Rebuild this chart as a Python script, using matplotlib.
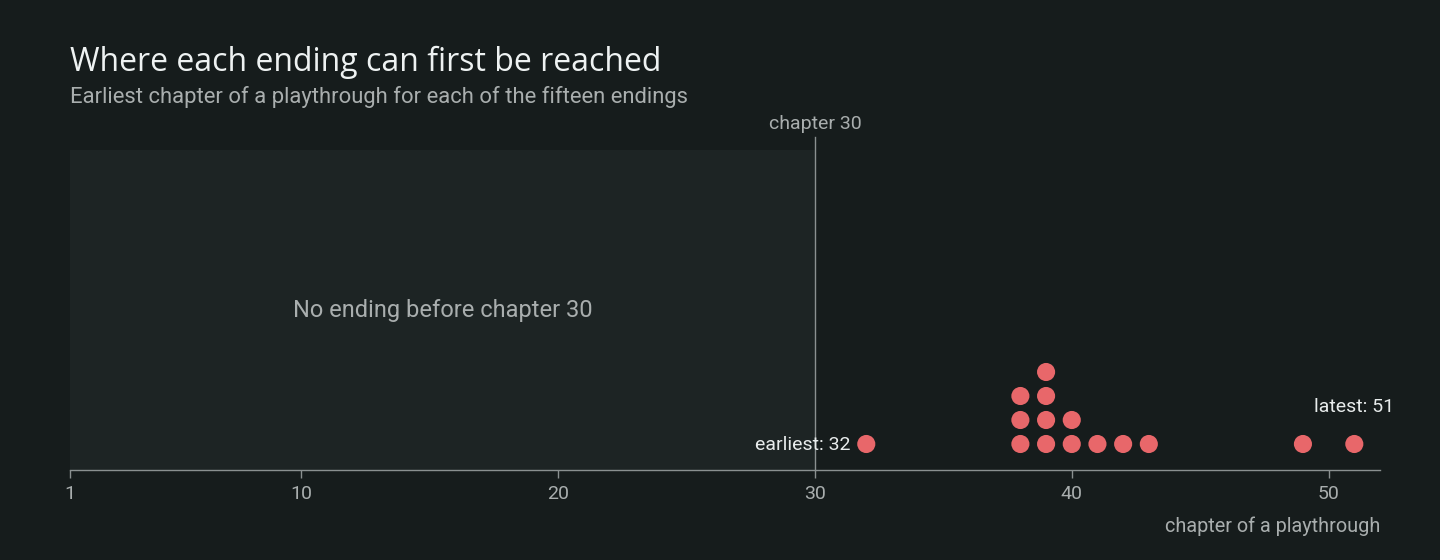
import numpy as np
import matplotlib.pyplot as plt
from matplotlib.patches import Rectangle

# earliest chapter per ending (15 endings)
chapters = [32, 38, 38, 38, 39, 39, 39, 39, 40, 40, 41, 42, 43, 49, 51]
x_ticks = [1, 10, 20, 30, 40, 50]
threshold = 30

BG = "#161c1c"
SHADE = "#1d2424"
DOT = "#e8676a"
GRID = "#8a9090"
TXT = "#a9aeae"

fig = plt.figure(figsize=(14.4, 5.6), dpi=100, facecolor=BG)
ax = fig.add_axes([70 / 1440, 90 / 560, 1310 / 1440, 320 / 560])
ax.set_facecolor(BG)
ax.set_xlim(1, 52)
ax.set_ylim(0, 320)

# shaded region before chapter 30
ax.add_patch(Rectangle((1, 0), threshold - 1, 320, facecolor=SHADE, edgecolor="none", zorder=0))
ax.text((1 + threshold) / 2, 160, "No ending before chapter 30", ha="center", va="center",
        color=TXT, fontsize=17, family="Roboto")

# threshold line
ax.plot([threshold, threshold], [0, 333], color=GRID, lw=1, clip_on=False, zorder=1)
ax.text(threshold, 337, "chapter 30", ha="center", va="bottom", color=TXT, fontsize=14,
        family="Roboto")

# stacked dots
counts = {}
xs, ys = [], []
for c in chapters:
    k = counts.get(c, 0)
    counts[c] = k + 1
    xs.append(c)
    ys.append(26 + 24 * k)
ax.scatter(xs, ys, s=170, color=DOT, edgecolors="none", zorder=3)

lo, hi = min(chapters), max(chapters)
ax.text(lo - 0.6, 25, f"earliest: {lo}", ha="right", va="center", color="#e8ecec",
        fontsize=14, family="Roboto")
ax.text(hi, 63, f"latest: {hi}", ha="center", va="center", color="#e8ecec",
        fontsize=14, family="Roboto")

for s in ["top", "right", "left"]:
    ax.spines[s].set_visible(False)
ax.spines["bottom"].set_color(GRID)
ax.spines["bottom"].set_linewidth(1)
ax.set_yticks([])
ax.set_xticks(x_ticks)
ax.set_xticklabels([str(t) for t in x_ticks], family="Roboto")
ax.tick_params(axis="x", colors=GRID, labelcolor=TXT, labelsize=14, length=6, width=1, pad=5)

fig.text(1380 / 1440, 1 - 526 / 560, "chapter of a playthrough", ha="right", va="center",
         color=TXT, fontsize=14.3, family="Roboto")

fig.text(70 / 1440, 1 - 62 / 560, "Where each ending can first be reached", ha="left",
         va="center", color="#eef2f2", fontsize=23, family="Open Sans")
fig.text(70 / 1440, 1 - 97 / 560, "Earliest chapter of a playthrough for each of the fifteen endings",
         ha="left", va="center", color=TXT, fontsize=15.8, family="Roboto")

fig.savefig("out.png", dpi=100, facecolor=BG)
